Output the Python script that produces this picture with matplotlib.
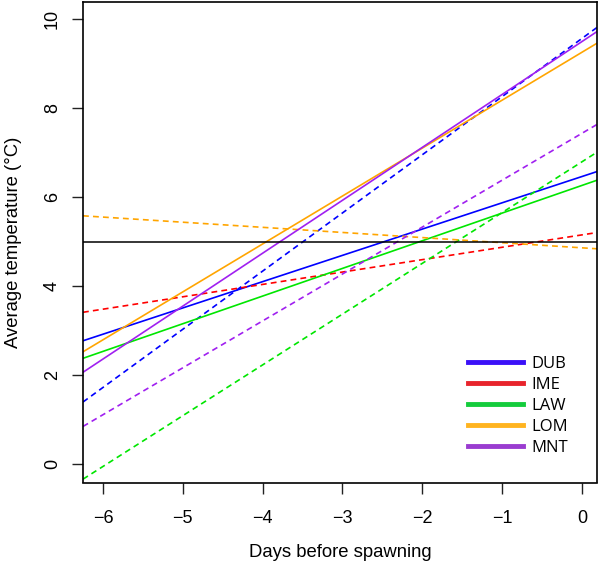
import matplotlib
matplotlib.use('Agg')
import matplotlib.pyplot as plt
from matplotlib.lines import Line2D

# regression lines: value at day 0 and slope per day
sites = ['DUB', 'IME', 'LAW', 'LOM', 'MNT']
colors = ['#0000FF', '#FF0000', '#00E600', '#FFA500', '#A020F0']
legend_colors = ['#3A10F8', '#E8242C', '#14CC3C', '#FFB420', '#9A3CD0']

solid_intercept = {'DUB': 6.46, 'LAW': 6.26, 'LOM': 9.25, 'MNT': 9.49}
solid_slope = {'DUB': 0.590, 'LAW': 0.621, 'LOM': 1.076, 'MNT': 1.188}

dashed_intercept = {'DUB': 9.56, 'IME': 5.15, 'LAW': 6.79, 'LOM': 4.86, 'MNT': 7.43}
dashed_slope = {'DUB': 1.306, 'IME': 0.278, 'LAW': 1.140, 'LOM': -0.115, 'MNT': 1.053}

threshold = 5.0

x_ticks = [-6, -5, -4, -3, -2, -1, 0]
y_ticks = [0, 2, 4, 6, 8, 10]

plt.rcParams['font.family'] = ['Liberation Sans', 'DejaVu Sans']

fig = plt.figure(figsize=(6.0, 5.72), dpi=100)
ax = fig.add_axes([83 / 600, 89.5 / 572, 514 / 600, 480.5 / 572])
ax.set_xlim(-6.25, 0.19)
ax.set_ylim(-0.41, 10.38)

for site, col in zip(sites, colors):
    if site in dashed_intercept:
        ax.axline((0, dashed_intercept[site]), slope=dashed_slope[site], color=col,
                  lw=1.2, linestyle=(0, (3.5, 2.5)))
    if site in solid_intercept:
        ax.axline((0, solid_intercept[site]), slope=solid_slope[site], color=col, lw=1.2)

ax.axhline(threshold, color='black', lw=1.1)

ax.set_xticks(x_ticks)
ax.set_yticks(y_ticks)
ax.tick_params(axis='both', direction='out', length=8, width=1, labelsize=13, color='#222222')
ax.tick_params(axis='x', pad=12)
ax.tick_params(axis='y', pad=8)
plt.setp(ax.get_yticklabels(), rotation=90, va='center')
for sp in ax.spines.values():
    sp.set_linewidth(1.2)

ax.set_xlabel('Days before spawning', fontsize=13.3, labelpad=12)
ax.set_ylabel('Average temperature (°C)', fontsize=13.3, labelpad=16)

handles = [Line2D([0], [0], color=c, lw=3.5) for c in legend_colors]
ax.legend(handles, sites, loc='upper left', bbox_to_anchor=(0.72, 0.295), frameon=False,
          handlelength=3.3, handletextpad=0.5, labelspacing=0.3,
          prop={'family': 'Open Sans', 'size': 12})

fig.savefig('out.png', dpi=100)
